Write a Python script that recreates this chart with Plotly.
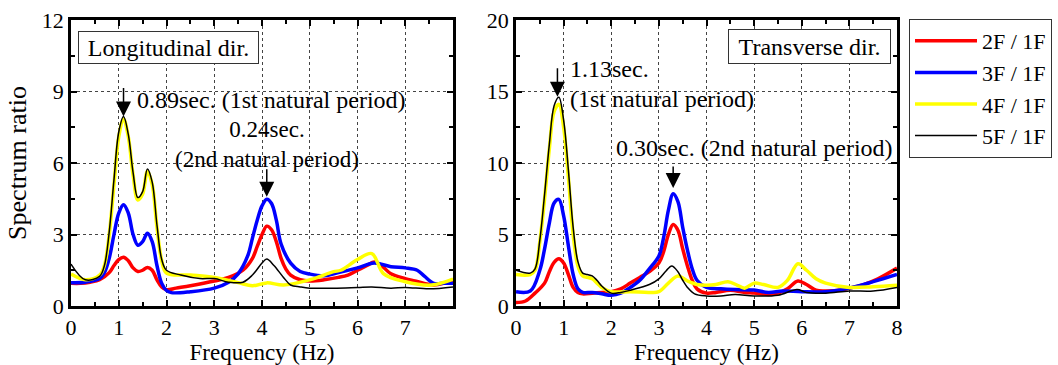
import plotly.graph_objects as go

# ---------------- data ----------------
# Longitudinal direction (left panel)
L_red_f = [0, 0.2, 0.4, 0.6, 0.8, 0.9, 1.0, 1.1, 1.2, 1.3, 1.4, 1.5, 1.6, 1.7, 1.8, 1.9, 2.0, 2.2, 2.5, 3.0, 3.3, 3.6, 3.8, 3.9, 4.0, 4.1, 4.2, 4.3, 4.4, 4.5, 4.6, 4.8, 5.0, 5.3, 5.6, 5.8, 6.0, 6.2, 6.35, 6.5, 6.7, 7.0, 7.2, 7.4, 7.6, 7.8, 8.0]
L_red_v = [0.95, 0.95, 1.0, 1.1, 1.4, 1.7, 1.95, 2.05, 1.9, 1.6, 1.45, 1.5, 1.62, 1.5, 1.1, 0.8, 0.68, 0.75, 0.85, 1.05, 1.2, 1.5, 2.0, 2.5, 3.0, 3.35, 3.2, 2.7, 2.0, 1.55, 1.3, 1.1, 1.05, 1.1, 1.2, 1.3, 1.5, 1.7, 1.85, 1.7, 1.35, 1.15, 1.05, 0.95, 0.88, 0.95, 1.1]

L_blue_f = [0, 0.3, 0.6, 0.7, 0.8, 0.9, 1.0, 1.1, 1.2, 1.3, 1.4, 1.5, 1.6, 1.7, 1.8, 1.9, 2.0, 2.1, 2.5, 3.0, 3.3, 3.5, 3.7, 3.8, 3.9, 4.0, 4.1, 4.2, 4.3, 4.4, 4.6, 4.8, 5.0, 5.3, 5.6, 6.0, 6.35, 6.7, 7.0, 7.25, 7.4, 7.6, 7.8, 8.0]
L_blue_v = [0.98, 1.0, 1.15, 1.4, 2.0, 3.0, 3.9, 4.25, 3.9, 3.0, 2.55, 2.7, 3.05, 2.7, 1.7, 0.95, 0.65, 0.56, 0.6, 0.75, 1.0, 1.35, 2.1, 2.85, 3.6, 4.2, 4.48, 4.3, 3.6, 2.6, 1.8, 1.45, 1.34, 1.27, 1.4, 1.6, 1.8, 1.65, 1.6, 1.5, 1.25, 0.95, 0.95, 0.95]

L_yel_f = [0, 0.3, 0.6, 0.7, 0.8, 0.9, 1.0, 1.1, 1.2, 1.3, 1.4, 1.5, 1.6, 1.7, 1.8, 1.9, 2.0, 2.5, 3.0, 3.5, 3.8, 4.1, 4.45, 5.0, 5.5, 5.65, 6.0, 6.3, 6.55, 7.0, 7.55, 8.0]
L_yel_v = [1.34, 1.1, 1.3, 1.7, 3.0, 5.1, 7.1, 7.85, 7.1, 5.5, 4.45, 4.7, 5.65, 5.1, 3.3, 1.9, 1.38, 1.3, 1.2, 0.98, 0.85, 0.97, 0.88, 1.1, 1.44, 1.5, 1.95, 2.2, 1.35, 1.02, 0.88, 1.13]

L_blk_f = [0, 0.3, 0.6, 0.7, 0.8, 0.9, 1.0, 1.1, 1.2, 1.3, 1.4, 1.5, 1.6, 1.7, 1.8, 1.9, 2.0, 2.3, 2.7, 3.0, 3.3, 3.6, 3.8, 4.0, 4.1, 4.25, 4.45, 4.6, 4.8, 5.0, 5.5, 6.0, 6.3, 6.7, 7.0, 7.5, 8.0]
L_blk_v = [1.76, 1.1, 1.25, 1.7, 3.1, 5.3, 7.3, 7.95, 7.2, 5.6, 4.55, 4.8, 5.75, 5.2, 3.4, 1.95, 1.5, 1.3, 1.15, 1.15, 1.0, 1.0, 1.3, 1.8, 1.97, 1.7, 1.2, 0.88, 0.8, 0.75, 0.75, 0.78, 0.8, 0.75, 0.78, 0.72, 0.8]

# Transverse direction (right panel)
T_red_f = [0, 0.2, 0.4, 0.6, 0.7, 0.8, 0.9, 1.0, 1.1, 1.2, 1.3, 1.4, 1.6, 1.8, 2.0, 2.2, 2.4, 2.6, 2.8, 3.0, 3.1, 3.2, 3.3, 3.4, 3.5, 3.6, 3.7, 3.8, 4.0, 4.2, 4.5, 4.8, 5.0, 5.3, 5.5, 5.7, 5.92, 6.1, 6.3, 6.5, 6.8, 7.0, 7.3, 7.6, 8.0]
T_red_v = [0.25, 0.35, 0.9, 1.6, 2.4, 3.05, 3.3, 3.0, 2.2, 1.3, 0.95, 0.85, 0.9, 0.95, 1.0, 1.2, 1.6, 2.0, 2.4, 3.0, 3.8, 5.0, 5.7, 5.3, 4.0, 2.8, 1.8, 1.2, 0.9, 0.95, 1.1, 0.95, 0.9, 0.8, 0.9, 1.2, 1.75, 1.5, 1.1, 1.05, 1.1, 1.25, 1.5, 1.9, 2.65]

T_blue_f = [0, 0.3, 0.5, 0.6, 0.7, 0.8, 0.9, 1.0, 1.1, 1.2, 1.3, 1.4, 1.6, 1.8, 2.0, 2.2, 2.4, 2.6, 2.8, 3.0, 3.1, 3.2, 3.3, 3.4, 3.5, 3.6, 3.7, 3.8, 4.0, 4.3, 4.6, 5.0, 5.3, 5.6, 6.0, 6.5, 7.0, 7.5, 8.0]
T_blue_v = [1.0, 1.05, 2.5, 4.0, 5.8, 7.2, 7.45, 6.3, 4.2, 2.2, 1.2, 0.95, 0.95, 0.85, 0.75, 0.9, 1.3, 1.8, 2.6, 3.5, 4.8, 6.7, 7.85, 7.3, 5.5, 3.9, 2.6, 1.8, 1.3, 1.2, 1.15, 1.12, 0.95, 1.05, 1.0, 1.0, 1.25, 1.7, 2.2]

T_yel_f = [0, 0.3, 0.4, 0.5, 0.6, 0.7, 0.8, 0.9, 1.0, 1.1, 1.2, 1.3, 1.4, 1.5, 1.6, 1.7, 1.8, 2.0, 2.4, 2.8, 3.0, 3.2, 3.4, 3.6, 3.8, 4.0, 4.2, 4.45, 4.65, 4.8, 5.0, 5.2, 5.5, 5.7, 5.92, 6.1, 6.3, 6.5, 7.0, 7.5, 8.0]
T_yel_v = [2.2, 2.2, 2.5, 4.5, 7.5, 11.0, 13.6, 14.1, 12.5, 9.0, 5.0, 2.8, 2.1, 2.0, 1.9, 1.6, 1.3, 1.0, 1.0, 0.95, 1.0, 1.6, 2.1, 1.75, 1.5, 1.45, 1.5, 1.7, 1.45, 1.25, 1.6, 1.5, 1.3, 1.8, 2.95, 2.5, 1.9, 1.6, 1.3, 1.35, 1.45]

T_blk_f = [0, 0.3, 0.4, 0.5, 0.6, 0.7, 0.8, 0.9, 1.0, 1.1, 1.2, 1.3, 1.4, 1.5, 1.6, 1.7, 1.8, 2.0, 2.2, 2.4, 2.8, 3.0, 3.15, 3.27, 3.4, 3.5, 3.6, 3.75, 4.0, 4.3, 4.6, 5.0, 5.5, 5.9, 6.1, 6.5, 7.0, 7.5, 8.0]
T_blk_v = [2.5, 2.3, 2.6, 4.6, 7.8, 11.3, 14.0, 14.6, 13.0, 9.5, 5.5, 3.1, 2.3, 2.2, 2.1, 1.8, 1.4, 0.9, 0.95, 1.1, 1.5, 1.9, 2.45, 2.8, 2.4, 1.8, 1.3, 0.85, 0.7, 0.7, 0.8, 0.7, 0.75, 1.15, 0.95, 0.9, 1.05, 1.05, 1.3]

series_names = ["2F / 1F", "3F / 1F", "4F / 1F", "5F / 1F"]
series_colors = ["#ff0000", "#0000ff", "#ffff00", "#000000"]
series_widths = [3.5, 3.5, 3.5, 1.5]

left_x_ticks = [0, 1, 2, 3, 4, 5, 6, 7]
right_x_ticks = [0, 1, 2, 3, 4, 5, 6, 7, 8]

# ---------------- figure ----------------
FONT = "Liberation Serif"
fig = go.Figure()

left_data = [(L_red_f, L_red_v), (L_blue_f, L_blue_v), (L_yel_f, L_yel_v), (L_blk_f, L_blk_v)]
right_data = [(T_red_f, T_red_v), (T_blue_f, T_blue_v), (T_yel_f, T_yel_v), (T_blk_f, T_blk_v)]

for i, (fx, fy) in enumerate(left_data):
    fig.add_trace(go.Scatter(x=fx, y=fy, mode="lines", name=series_names[i],
                             line=dict(color=series_colors[i], width=series_widths[i], shape="spline", smoothing=1.0),
                             xaxis="x", yaxis="y", showlegend=False))
for i, (fx, fy) in enumerate(right_data):
    fig.add_trace(go.Scatter(x=fx, y=fy, mode="lines", name=series_names[i],
                             line=dict(color=series_colors[i], width=series_widths[i], shape="spline", smoothing=1.0),
                             xaxis="x2", yaxis="y2", showlegend=True))

W, H = 1058, 365
ydom = [(H - 306) / H, (H - 20) / H]

axis_common = dict(
    showline=True, linewidth=2.5, linecolor="black", mirror="ticks",
    ticks="inside", ticklen=6, tickwidth=1.5, tickcolor="black",
    showgrid=True, gridcolor="#444", gridwidth=1, griddash="dot",
    zeroline=False, automargin=False,
    tickfont=dict(family=FONT, size=22, color="black"),
)

fig.update_layout(
    width=W, height=H, margin=dict(l=0, r=0, t=0, b=0, autoexpand=False),
    paper_bgcolor="white", plot_bgcolor="white",
    font=dict(family=FONT, size=24, color="black"),
    xaxis=dict(domain=[71 / W, 453 / W], range=[0, 8], tickvals=left_x_ticks,
               minor=dict(dtick=0.5, ticks="inside", ticklen=4, tickcolor="black", showgrid=False),
               title=dict(text="Frequency (Hz)", font=dict(family=FONT, size=23), standoff=4),
               anchor="y", **axis_common),
    yaxis=dict(domain=ydom, range=[0, 12], dtick=3,
               minor=dict(dtick=1.5, ticks="inside", ticklen=4, tickcolor="black", showgrid=False),
               title=dict(text="Spectrum ratio", font=dict(family=FONT, size=26), standoff=8),
               anchor="x", **axis_common),
    xaxis2=dict(domain=[516 / W, 897 / W], range=[0, 8], tickvals=right_x_ticks,
                minor=dict(dtick=0.5, ticks="inside", ticklen=4, tickcolor="black", showgrid=False),
                title=dict(text="Frequency (Hz)", font=dict(family=FONT, size=23), standoff=4),
                anchor="y2", **axis_common),
    yaxis2=dict(domain=ydom, range=[0, 20], dtick=5,
                minor=dict(dtick=2.5, ticks="inside", ticklen=4, tickcolor="black", showgrid=False),
                anchor="x2", **axis_common),
    legend=dict(x=909 / W, y=1 - 19 / H, xanchor="left", yanchor="top",
                bordercolor="#333", borderwidth=1, bgcolor="white",
                font=dict(family=FONT, size=22, color="black"), itemwidth=62,
                tracegroupgap=0),
)

arrow = dict(showarrow=True, arrowhead=2, arrowsize=2.0, arrowwidth=1.5, arrowcolor="black", text="", ax=0)
fig.add_annotation(x=1.1, y=7.95, xref="x", yref="y", ay=-30, **arrow)
fig.add_annotation(x=4.1, y=4.58, xref="x", yref="y", ay=-29, **arrow)
fig.add_annotation(x=0.87, y=14.64, xref="x2", yref="y2", ay=-30, **arrow)
fig.add_annotation(x=3.3, y=8.26, xref="x2", yref="y2", ay=-23, **arrow)

txt = dict(showarrow=False, font=dict(family=FONT, size=24, color="black"), yanchor="middle")
fig.add_annotation(x=1.33, y=8.65, xref="x", yref="y", xanchor="left", text="0.89sec. (1st natural period)", **txt)
fig.add_annotation(x=4.1, y=6.78, xref="x", yref="y", xanchor="center",
                   text="0.24sec.<br>(2nd natural period)", showarrow=False,
                   font=dict(family=FONT, size=23, color="black"), yanchor="middle", align="center")
fig.add_annotation(x=1.1, y=16.6, xref="x2", yref="y2", xanchor="left", text="1.13sec.", **txt)
fig.add_annotation(x=1.09, y=14.5, xref="x2", yref="y2", xanchor="left", text="(1st natural period)", **txt)
fig.add_annotation(x=2.05, y=11.06, xref="x2", yref="y2", xanchor="left", text="0.30sec. (2nd natural period)", **txt)

box = dict(showarrow=False, xref="paper", yref="paper", xanchor="center", yanchor="middle",
           bordercolor="#333", borderwidth=1, borderpad=2, bgcolor="white",
           font=dict(family=FONT, size=24, color="black"))
fig.add_annotation(x=168.5 / W, y=1 - 47.5 / H, text="Longitudinal dir.", width=175, height=27, **box)
fig.add_annotation(x=809.5 / W, y=1 - 46.5 / H, text="Transverse dir.", width=157, height=29, **box)

fig.write_html("out.html")
